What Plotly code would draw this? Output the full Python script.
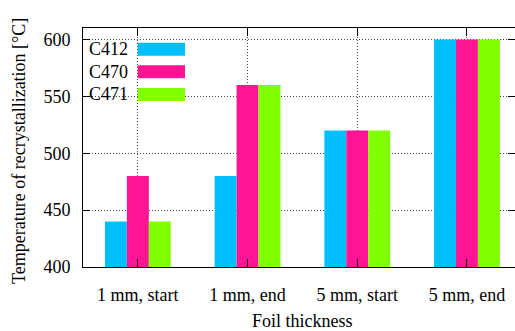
import plotly.graph_objects as go

# Recrystallization temperatures per foil condition and alloy
categories = ["1 mm, start", "1 mm, end", "5 mm, start", "5 mm, end"]
series_names = ["C412", "C470", "C471"]
c412 = [440, 480, 520, 600]
c470 = [480, 560, 520, 600]
c471 = [440, 560, 520, 600]
y_ticks = [400, 450, 500, 550, 600]

colors = ["#00BFFF", "#FF1493", "#7FFF00"]
values = [c412, c470, c471]
font_family = "Liberation Serif"
fsize = 18

fig = go.Figure()
xpos = list(range(len(categories)))
for name, vals, col in zip(series_names, values, colors):
    fig.add_trace(go.Bar(
        x=xpos, y=vals, name=name,
        marker=dict(color=col, line=dict(width=0)),
        showlegend=False,
    ))

W, H = 515, 331
ml, mr, mt, mb = 83, 0, 28, 64
pw, ph = W - ml - mr, H - mt - mb

def px_x(p):
    return (p - ml) / pw

def px_y(p):
    return (H - mb - p) / ph

# Opaque key area covering the grid
fig.add_shape(type="rect", xref="paper", yref="paper", layer="between",
              x0=px_x(86), x1=px_x(193), y0=px_y(102), y1=px_y(36),
              fillcolor="white", line=dict(width=0))

# Key: label on the left, colour sample on the right
row_y = [49.2, 71.8, 94.4]
for name, col, ry in zip(series_names, colors, row_y):
    fig.add_annotation(text=name, xref="paper", yref="paper",
                       x=px_x(87), y=px_y(ry), xanchor="left", yanchor="middle",
                       showarrow=False, font=dict(family=font_family, size=fsize, color="black"))
    fig.add_shape(type="rect", xref="paper", yref="paper", layer="above",
                  x0=px_x(137.7), x1=px_x(185), y0=px_y(ry + 6.5), y1=px_y(ry - 6.5),
                  fillcolor=col, line=dict(width=0))

# Axis titles
fig.add_annotation(text="Temperature of recrystallization [°C]", xref="paper", yref="paper",
                   x=px_x(19), y=px_y(151), textangle=-90, xanchor="center", yanchor="middle",
                   showarrow=False, font=dict(family=font_family, size=fsize, color="black"))
fig.add_annotation(text="Foil thickness", xref="paper", yref="paper",
                   x=px_x(302), y=px_y(320.5), xanchor="center", yanchor="middle",
                   showarrow=False, font=dict(family=font_family, size=fsize, color="black"))

fig.update_layout(
    width=W, height=H,
    margin=dict(l=ml, r=mr, t=mt, b=mb, pad=0),
    paper_bgcolor="white", plot_bgcolor="white",
    barmode="group", bargap=0.4, bargroupgap=0,
    font=dict(family=font_family, size=fsize, color="black"),
    xaxis=dict(
        range=[-0.5, 3.438], tickmode="array", tickvals=xpos, ticktext=categories,
        showline=True, linecolor="black", linewidth=1, mirror="ticks",
        ticks="inside", ticklen=8, tickcolor="black",
        showgrid=True, gridcolor="#444", gridwidth=1, griddash="1px,2px",
        zeroline=False, ticklabelstandoff=11,
    ),
    yaxis=dict(
        range=[400, 610], tickmode="array", tickvals=y_ticks,
        showline=True, linecolor="black", linewidth=1, mirror="ticks",
        ticks="inside", ticklen=7, tickcolor="black",
        showgrid=True, gridcolor="#444", gridwidth=1, griddash="1px,2px",
        zeroline=False, ticklabelstandoff=8,
    ),
)

fig.write_html("out.html")
